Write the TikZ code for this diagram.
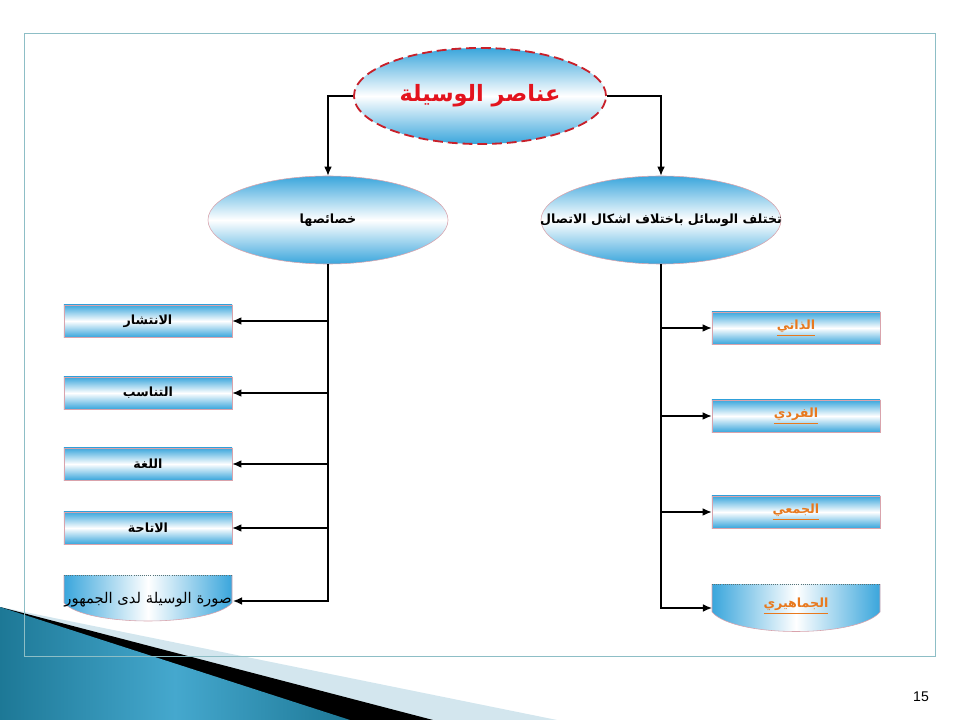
\documentclass[tikz,border=0pt]{standalone}
\usepackage{fontspec}
\setmainfont{Liberation Sans}
\newfontfamily\arabicfont[Script=Arabic]{DejaVu Sans}
\TeXXeTstate=1
\usetikzlibrary{shapes.geometric,arrows.meta}
\definecolor{skyblue}{HTML}{3AA6DC}
\definecolor{framecol}{HTML}{8DBEC6}
\definecolor{linkorange}{HTML}{E8791E}
\definecolor{edgepink}{HTML}{D9A3AC}
\definecolor{titlered}{HTML}{E3141E}
\definecolor{dashred}{HTML}{C8202A}
\definecolor{decodark}{HTML}{1D7896}
\definecolor{decomid}{HTML}{45A8CE}
\definecolor{decolight}{HTML}{D3E6EE}
\newcommand{\artext}[1]{\beginR #1\endR}
\newcommand{\arlink}[1]{\underline{\hbox{\beginR #1\endR}}}
\begin{document}
\begin{tikzpicture}[x=0.025cm, y=-0.025cm,
    conn/.style={line width=0.9pt, -{Latex[length=6.5pt,width=5.5pt]}},
    cell/.style={draw=edgepink, line width=0.4pt, top color=skyblue, bottom color=skyblue, middle color=white,
        minimum width=4.2cm, minimum height=0.8cm, inner sep=0pt, font=\arabicfont\bfseries\fontsize{9}{11}\selectfont},
    linkcell/.style={cell, text=linkorange},
    oval/.style={ellipse, draw=edgepink, line width=0.4pt, top color=skyblue, bottom color=skyblue, middle color=white,
        minimum width=6cm, minimum height=2.2cm, inner sep=0pt},
    topoval/.style={ellipse, draw=dashred, line width=1.3pt, dash pattern=on 7pt off 3.5pt,
        top color=skyblue, bottom color=skyblue, middle color=white,
        minimum width=6.3cm, minimum height=2.4cm, inner sep=0pt},
    ovaltxt/.style={font=\arabicfont\bfseries\fontsize{9}{11}\selectfont},
    titletxt/.style={font=\arabicfont\bfseries\fontsize{16}{19}\selectfont, text=titlered},
    bowl/.style={left color=skyblue, right color=skyblue, middle color=white}]
\useasboundingbox (0,0) rectangle (960,720);

% corner decoration
\fill[decolight] (0,607) -- (557,720) -- (0,720) -- cycle;
\fill[black] (0,607) -- (433,720) -- (0,720) -- cycle;
\shade[left color=decodark, right color=decodark, middle color=decomid] (0,607) -- (350,720) -- (0,720) -- cycle;
\draw[framecol, line width=0.6pt] (24,33) rectangle (935,656);

% top
\node[topoval] (wasila) at (480,96) {};
\node[titletxt] (wasila-t) at (wasila.center) {\artext{عناصر الوسيلة}};
\node[oval] (khasais) at (328,220) {};
\node[ovaltxt] (khasais-t) at (khasais.center) {\artext{خصائصها}};
\node[oval] (ashkal) at (661,220) {};
\node[ovaltxt] (ashkal-t) at (ashkal.center) {\artext{تختلف الوسائل باختلاف اشكال الاتصال}};

% left column
\node[cell] (intishar) at (148,321) {\artext{الانتشار}};
\node[cell] (tanasub) at (148,393) {\artext{التناسب}};
\node[cell] (lugha) at (148,464) {\artext{اللغة}};
\node[cell] (itaha) at (148,528) {\artext{الاتاحة}};
\shade[bowl] (64,575) -- (232,575) -- (232,603) .. controls (210,627) and (86,627) .. (64,603) -- cycle;
\draw[edgepink, line width=0.4pt] (232,575) -- (232,603) .. controls (210,627) and (86,627) .. (64,603) -- (64,575);
\draw[framecol!60!black, densely dotted, line width=0.5pt] (64,575) -- (232,575);
\node[font=\arabicfont\fontsize{10.5}{12}\selectfont] (sura) at (148,600) {\artext{صورة الوسيلة لدى الجمهور}};
\coordinate (sura-e) at (233,601);

% right column
\node[linkcell] (dhati) at (796,328) {\arlink{الذاتي}};
\node[linkcell] (fardi) at (796,416) {\arlink{الفردي}};
\node[linkcell] (jamei) at (796,512) {\arlink{الجمعي}};
\shade[bowl] (712,584) -- (880,584) -- (880,612) .. controls (858,638) and (734,638) .. (712,612) -- cycle;
\draw[edgepink, line width=0.4pt] (880,584) -- (880,612) .. controls (858,638) and (734,638) .. (712,612) -- (712,584);
\draw[framecol!60!black, densely dotted, line width=0.5pt] (712,584) -- (880,584);
\node[font=\arabicfont\bfseries\fontsize{9}{11}\selectfont, text=linkorange] (jamahiri) at (796,606) {\arlink{الجماهيري}};
\coordinate (jamahiri-w) at (712,608);

% connectors
\draw[conn] (wasila.west) -| (khasais.north);
\draw[conn] (wasila.east) -| (ashkal.north);
\foreach \n in {intishar,tanasub,lugha,itaha}
    \draw[conn] (khasais.south |- \n.east) -- (\n.east);
\draw[conn] (khasais.south) |- (sura-e);
\foreach \n in {dhati,fardi,jamei}
    \draw[conn] (ashkal.south |- \n.west) -- (\n.west);
\draw[conn] (ashkal.south) |- (jamahiri-w);

\node[font=\fontsize{10}{12}\selectfont] (pagenum) at (921,697) {15};
\end{tikzpicture}
\end{document}
